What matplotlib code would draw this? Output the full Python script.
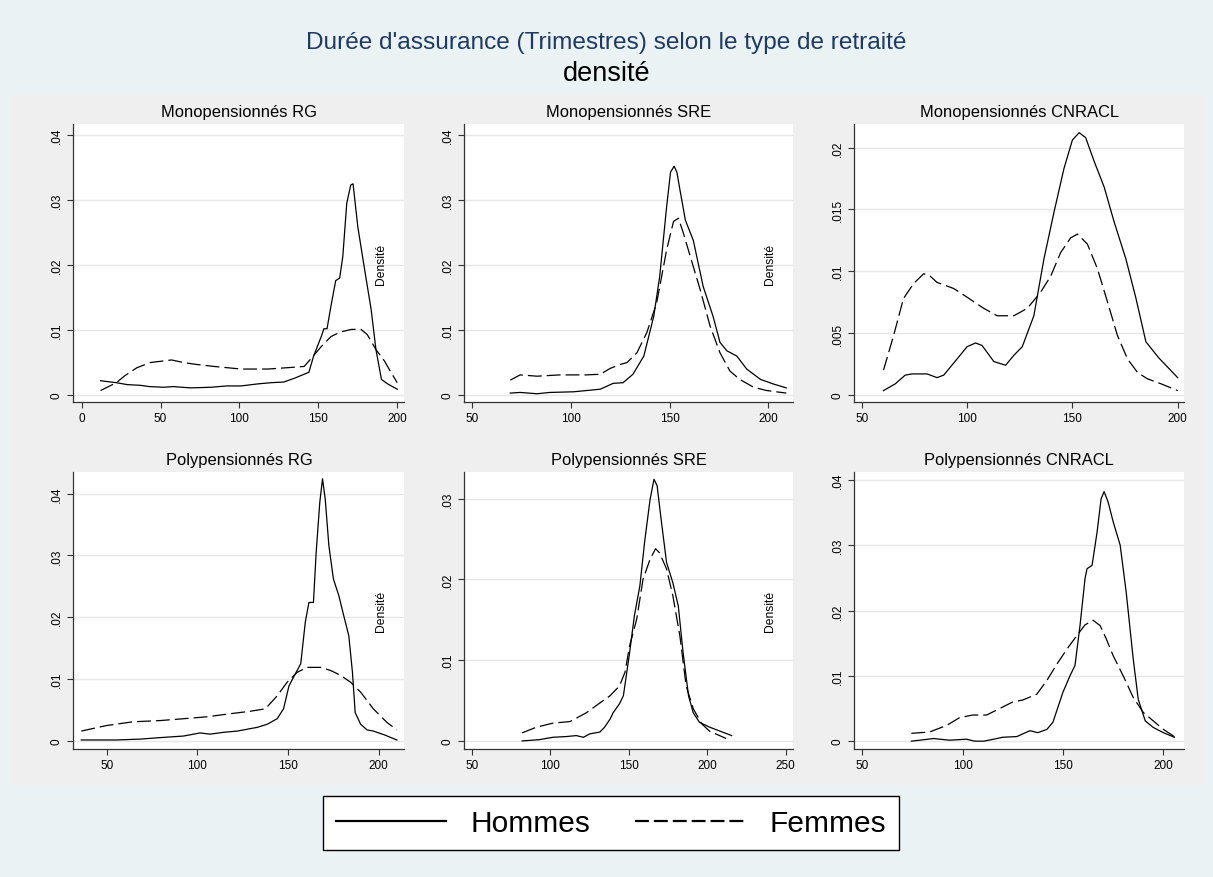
import numpy as np
import matplotlib
matplotlib.use("Agg")
import matplotlib.pyplot as plt
from matplotlib.lines import Line2D
from matplotlib.ticker import FuncFormatter

plt.rcParams['font.family'] = ['Liberation Sans', 'DejaVu Sans']
plt.rcParams['lines.scale_dashes'] = False

W, H = 1213, 878
DASH = (10, 3.6)

# --- densities (trimestres -> density), hommes / femmes -------------------
mono_rg_h_x = [12, 22, 29, 37, 43, 52, 58, 69, 82, 92, 101, 111, 120, 128, 135, 140, 144, 147,
               152, 153.5, 155.5, 158, 161, 163.5, 165.5, 168, 170.5, 172, 175, 179, 183.5, 186.5,
               190, 194, 200]
mono_rg_h_y = [.0022, .0019, .0016, .0015, .0013, .0012, .0013, .0011, .0012, .0014, .0014, .0017,
               .0019, .0020, .0026, .0031, .0035, .0060, .0091, .0102, .0102, .0137, .0176, .0180,
               .0213, .0295, .0323, .0325, .0259, .0198, .0131, .0070, .0024, .0017, .0009]
mono_rg_f_x = [12, 22, 27.5, 35, 43.5, 57, 64.5, 73, 84, 101, 118, 130, 141, 145, 152, 158, 164,
               171, 177, 181, 186.5, 192, 196, 200]
mono_rg_f_y = [.0007, .0019, .0030, .0042, .0050, .0054, .0050, .0047, .0044, .0040, .0040, .0042,
               .0044, .0055, .0075, .0090, .0097, .0101, .0101, .0093, .0070, .0052, .0035, .0019]

mono_sre_h_x = [69.5, 74.5, 83, 89.5, 101.5, 115, 121.5, 126.5, 131.5, 137, 142, 145, 148.5, 150.5,
                152.3, 153.7, 155.3, 158, 162, 167, 172, 175.5, 179, 184, 189, 196, 202.5, 209]
mono_sre_h_y = [.0003, .0004, .0002, .0004, .0005, .0009, .0018, .0019, .0032, .0060, .0121, .0182,
                .0289, .0343, .0352, .0343, .0315, .0269, .0238, .0167, .0121, .0081, .0068, .0060,
                .0040, .0024, .0017, .0011]
mono_sre_f_x = [69.5, 74.5, 83, 94.5, 108, 115, 120, 125, 128.5, 133.5, 138.5, 143.5, 148.5, 152,
                154.5, 157, 160.5, 165.5, 170.5, 175.5, 180.5, 185.5, 192.5, 199, 209]
mono_sre_f_y = [.0023, .0031, .0029, .0031, .0031, .0032, .0041, .0047, .0050, .0065, .0096, .0142,
                .0223, .0267, .0272, .0249, .0213, .0162, .0106, .0065, .0037, .0024, .0012, .0007,
                .0003]

mono_cnracl_h_x = [60.3, 65.9, 70.6, 73.8, 81, 85.7, 88.9, 95.2, 100, 104, 107.1, 112.7, 118.3,
                   122.2, 126.2, 131.7, 136.5, 141.3, 146, 150, 153.2, 156.3, 160.3, 165.1, 169.8,
                   175.4, 180.2, 184.9, 191, 200]
mono_cnracl_h_y = [.00035, .0009, .0016, .0017, .0017, .0014, .0016, .0029, .0039, .0042, .0040,
                   .0027, .0024, .0032, .0039, .0064, .0110, .0148, .0183, .0206, .0212, .0208,
                   .0189, .0168, .0140, .0110, .0078, .0043, .0030, .0014]
mono_cnracl_f_x = [60.3, 65.1, 69.8, 74.6, 79.4, 82.5, 85.7, 93.7, 100, 107.9, 114.3, 122.2, 128.6,
                   134.9, 139.7, 144.4, 149.2, 152.4, 157.1, 161.9, 166.7, 171.4, 176.2, 181,
                   185.7, 192.1, 200]
mono_cnracl_f_y = [.0020, .0048, .0078, .0090, .0098, .0096, .0091, .0086, .0079, .0070, .0064,
                   .0064, .0070, .0083, .0096, .0115, .0127, .0130, .0122, .0102, .0075, .0048,
                   .0029, .0018, .0013, .0009, .00035]

poly_rg_h_x = [36, 55.5, 68.5, 77.5, 92.5, 101.5, 107, 114.5, 122, 127.5, 133, 138.5, 144, 147.5,
               150.5, 153, 157, 159.5, 161.5, 164, 165.5, 167.5, 169, 170.5, 172.5, 175, 178,
               180.5, 183.5, 185.5, 187, 190, 193.5, 197, 203, 210]
poly_rg_h_y = [.00016, .00016, .0003, .0005, .0008, .0013, .0011, .0014, .0016, .0019, .0022,
               .0027, .0036, .0052, .0089, .0103, .0125, .0192, .0224, .0224, .0305, .0386, .0424,
               .0391, .0316, .0262, .0235, .0205, .0170, .0111, .0046, .0027, .0018, .0016, .0010,
               .00016]
poly_rg_f_x = [36, 50, 64.5, 79.5, 92.5, 105, 118, 129, 137.5, 144, 149.5, 155, 160.5, 168, 173.5,
               179, 184.5, 190, 197, 204.5, 210]
poly_rg_f_y = [.0016, .0025, .0031, .0033, .0036, .0039, .0044, .0048, .0052, .0073, .0095, .0111,
               .0119, .0119, .0114, .0106, .0095, .0079, .0052, .0030, .0018]

poly_sre_h_x = [82, 93, 101.5, 110, 116.5, 121, 125, 131.5, 134.5, 138, 140, 144, 146.5, 150.5,
                153.5, 157, 160, 163.5, 166, 168, 170.5, 174, 178, 181.5, 184.5, 188, 191, 195,
                201.5, 215.5]
poly_sre_h_y = [0, .00016, .00045, .00054, .00066, .00045, .00087, .0011, .0017, .0027, .0035,
                .0046, .0056, .0110, .0155, .0192, .0246, .0299, .0324, .0316, .0275, .0221, .0196,
                .0167, .0110, .0056, .0035, .0023, .0017, .00066]
poly_sre_f_x = [82, 91, 101.5, 112.5, 123, 131.5, 138, 144, 147.5, 150.5, 155, 159, 163.5, 167,
                169.5, 174, 178, 182.5, 186.5, 191, 196.5, 201.5, 212]
poly_sre_f_y = [.0010, .0017, .0022, .0024, .0035, .0047, .0056, .0068, .0085, .0118, .0151, .0200,
                .0225, .0238, .0233, .0213, .0180, .0130, .0068, .0040, .0021, .0012, .0003]

poly_cnracl_h_x = [74.5, 85.5, 93.5, 102, 106, 110.5, 115.5, 120, 127, 133.5, 137.5, 142, 145, 150,
                   153.5, 156, 158.5, 161, 162, 164.5, 167, 169, 170.5, 172.5, 175, 178.5, 181.5,
                   185, 187.5, 191, 195, 200, 205.5]
poly_cnracl_h_y = [0, .0004, .00015, .0003, 0, 0, .0003, .0006, .0007, .0016, .0013, .0018, .0029,
                   .0075, .0100, .0116, .0177, .0249, .0264, .0269, .0320, .0371, .0382, .0366,
                   .0336, .0300, .0228, .0126, .0064, .0031, .0021, .0013, .0006]
poly_cnracl_f_x = [74.5, 83.5, 92, 98.5, 105, 112, 118.5, 125, 130, 137, 142, 147, 152, 157, 161,
                   165, 168.5, 171.5, 175, 180, 185, 190, 195, 200, 205.5]
poly_cnracl_f_y = [.0012, .0014, .0024, .0036, .0040, .0040, .0050, .0060, .0063, .0072, .0093,
                   .0118, .0141, .0162, .0178, .0185, .0177, .0157, .0131, .0100, .0067, .0044,
                   .0031, .0018, .0007]

titles = ['Monopensionnés RG', 'Monopensionnés SRE', 'Monopensionnés CNRACL',
          'Polypensionnés RG', 'Polypensionnés SRE', 'Polypensionnés CNRACL']
xticks = [range(0, 201, 50), range(50, 201, 50), range(50, 201, 50),
          range(50, 201, 50), range(50, 251, 50), range(50, 201, 50)]
yticks = [[0, .01, .02, .03, .04], [0, .01, .02, .03, .04], [0, .005, .01, .015, .02],
          [0, .01, .02, .03, .04], [0, .01, .02, .03], [0, .01, .02, .03, .04]]
xlims = [(-5.3, 204.6), (46.1, 212.4), (46.3, 203), (31.6, 214.2), (44.9, 254.6), (45.9, 210.3)]
ylims = [(-.00107, .0417), (-.00107, .0417), (-.00057, .0219),
         (-.0013, .0435), (-.001, .0333), (-.0012, .0412)]
show_density = [True, True, False, True, True, False]

panels = [
    (mono_rg_h_x, mono_rg_h_y, mono_rg_f_x, mono_rg_f_y),
    (mono_sre_h_x, mono_sre_h_y, mono_sre_f_x, mono_sre_f_y),
    (mono_cnracl_h_x, mono_cnracl_h_y, mono_cnracl_f_x, mono_cnracl_f_y),
    (poly_rg_h_x, poly_rg_h_y, poly_rg_f_x, poly_rg_f_y),
    (poly_sre_h_x, poly_sre_h_y, poly_sre_f_x, poly_sre_f_y),
    (poly_cnracl_h_x, poly_cnracl_h_y, poly_cnracl_f_x, poly_cnracl_f_y),
]

# panel boxes in pixels: (left, right), (top, bottom)
cols = [(73.3, 404.5), (464, 793), (854, 1184)]
rows = [(125, 403), (473, 750)]


def stata_fmt(v, pos):
    if abs(v) < 1e-12:
        return '0'
    s = ('%.3f' % v).rstrip('0')
    return s[1:] if s.startswith('0') else s


fig = plt.figure(figsize=(W / 100, H / 100), dpi=100)
fig.patch.set_facecolor('#EAF2F3')
# grey graph region behind the six panels
fig.patches.append(plt.Rectangle((9 / W, 1 - 786 / H), (1204 - 9) / W, (786 - 96) / H,
                                 transform=fig.transFigure, facecolor='#EFEFEF',
                                 edgecolor='none', zorder=-10))

for i, (hx, hy, fx, fy) in enumerate(panels):
    (l, r), (t, b) = cols[i % 3], rows[i // 3]
    ax = fig.add_axes([l / W, 1 - b / H, (r - l) / W, (b - t) / H])
    ax.set_facecolor('white')
    ax.plot(hx, hy, color='black', lw=0.9)
    ax.plot(fx, fy, color='black', lw=0.9, linestyle=(0, DASH))
    ax.set_xlim(*xlims[i])
    ax.set_ylim(*ylims[i])
    ax.set_xticks(list(xticks[i]))
    ax.set_yticks(yticks[i])
    ax.yaxis.set_major_formatter(FuncFormatter(stata_fmt))
    ax.grid(axis='y', color='#E6E6E6', lw=1)
    ax.set_axisbelow(True)
    for s in ['top', 'right']:
        ax.spines[s].set_visible(False)
    for s in ['left', 'bottom']:
        ax.spines[s].set_color('#333333')
        ax.spines[s].set_linewidth(0.9)
    ax.tick_params(length=4, width=0.8, color='#333333', labelsize=8.5, pad=3.5)
    plt.setp(ax.get_yticklabels(), rotation=90, va='center')
    ax.set_title(titles[i], fontsize=11.9, pad=6)
    if show_density[i]:
        ax.text(0.93, 0.5, 'Densité', transform=ax.transAxes, rotation=90,
                ha='center', va='center', fontsize=8.7)

fig.text(0.5, 1 - 43 / H, "Durée d'assurance (Trimestres) selon le type de retraité",
         ha='center', va='center', fontsize=17.6, color='#1F3A63')
fig.text(0.5, 1 - 74 / H, 'densité', ha='center', va='center', fontsize=19.5)

handles = [Line2D([], [], color='black', lw=1.6),
           Line2D([], [], color='black', lw=1.6, linestyle=(0, DASH))]
leg = fig.legend(handles, ['Hommes', 'Femmes'], loc='center',
                 bbox_to_anchor=(611 / W, 1 - 824 / H), ncol=2, fontsize=21.5,
                 frameon=True, fancybox=False, framealpha=1, edgecolor='black',
                 handlelength=3.7, handletextpad=0.8, columnspacing=1.5,
                 borderpad=0.45, borderaxespad=0)
leg.get_frame().set_linewidth(1.0)

fig.savefig('out.png', dpi=100, facecolor=fig.get_facecolor())
